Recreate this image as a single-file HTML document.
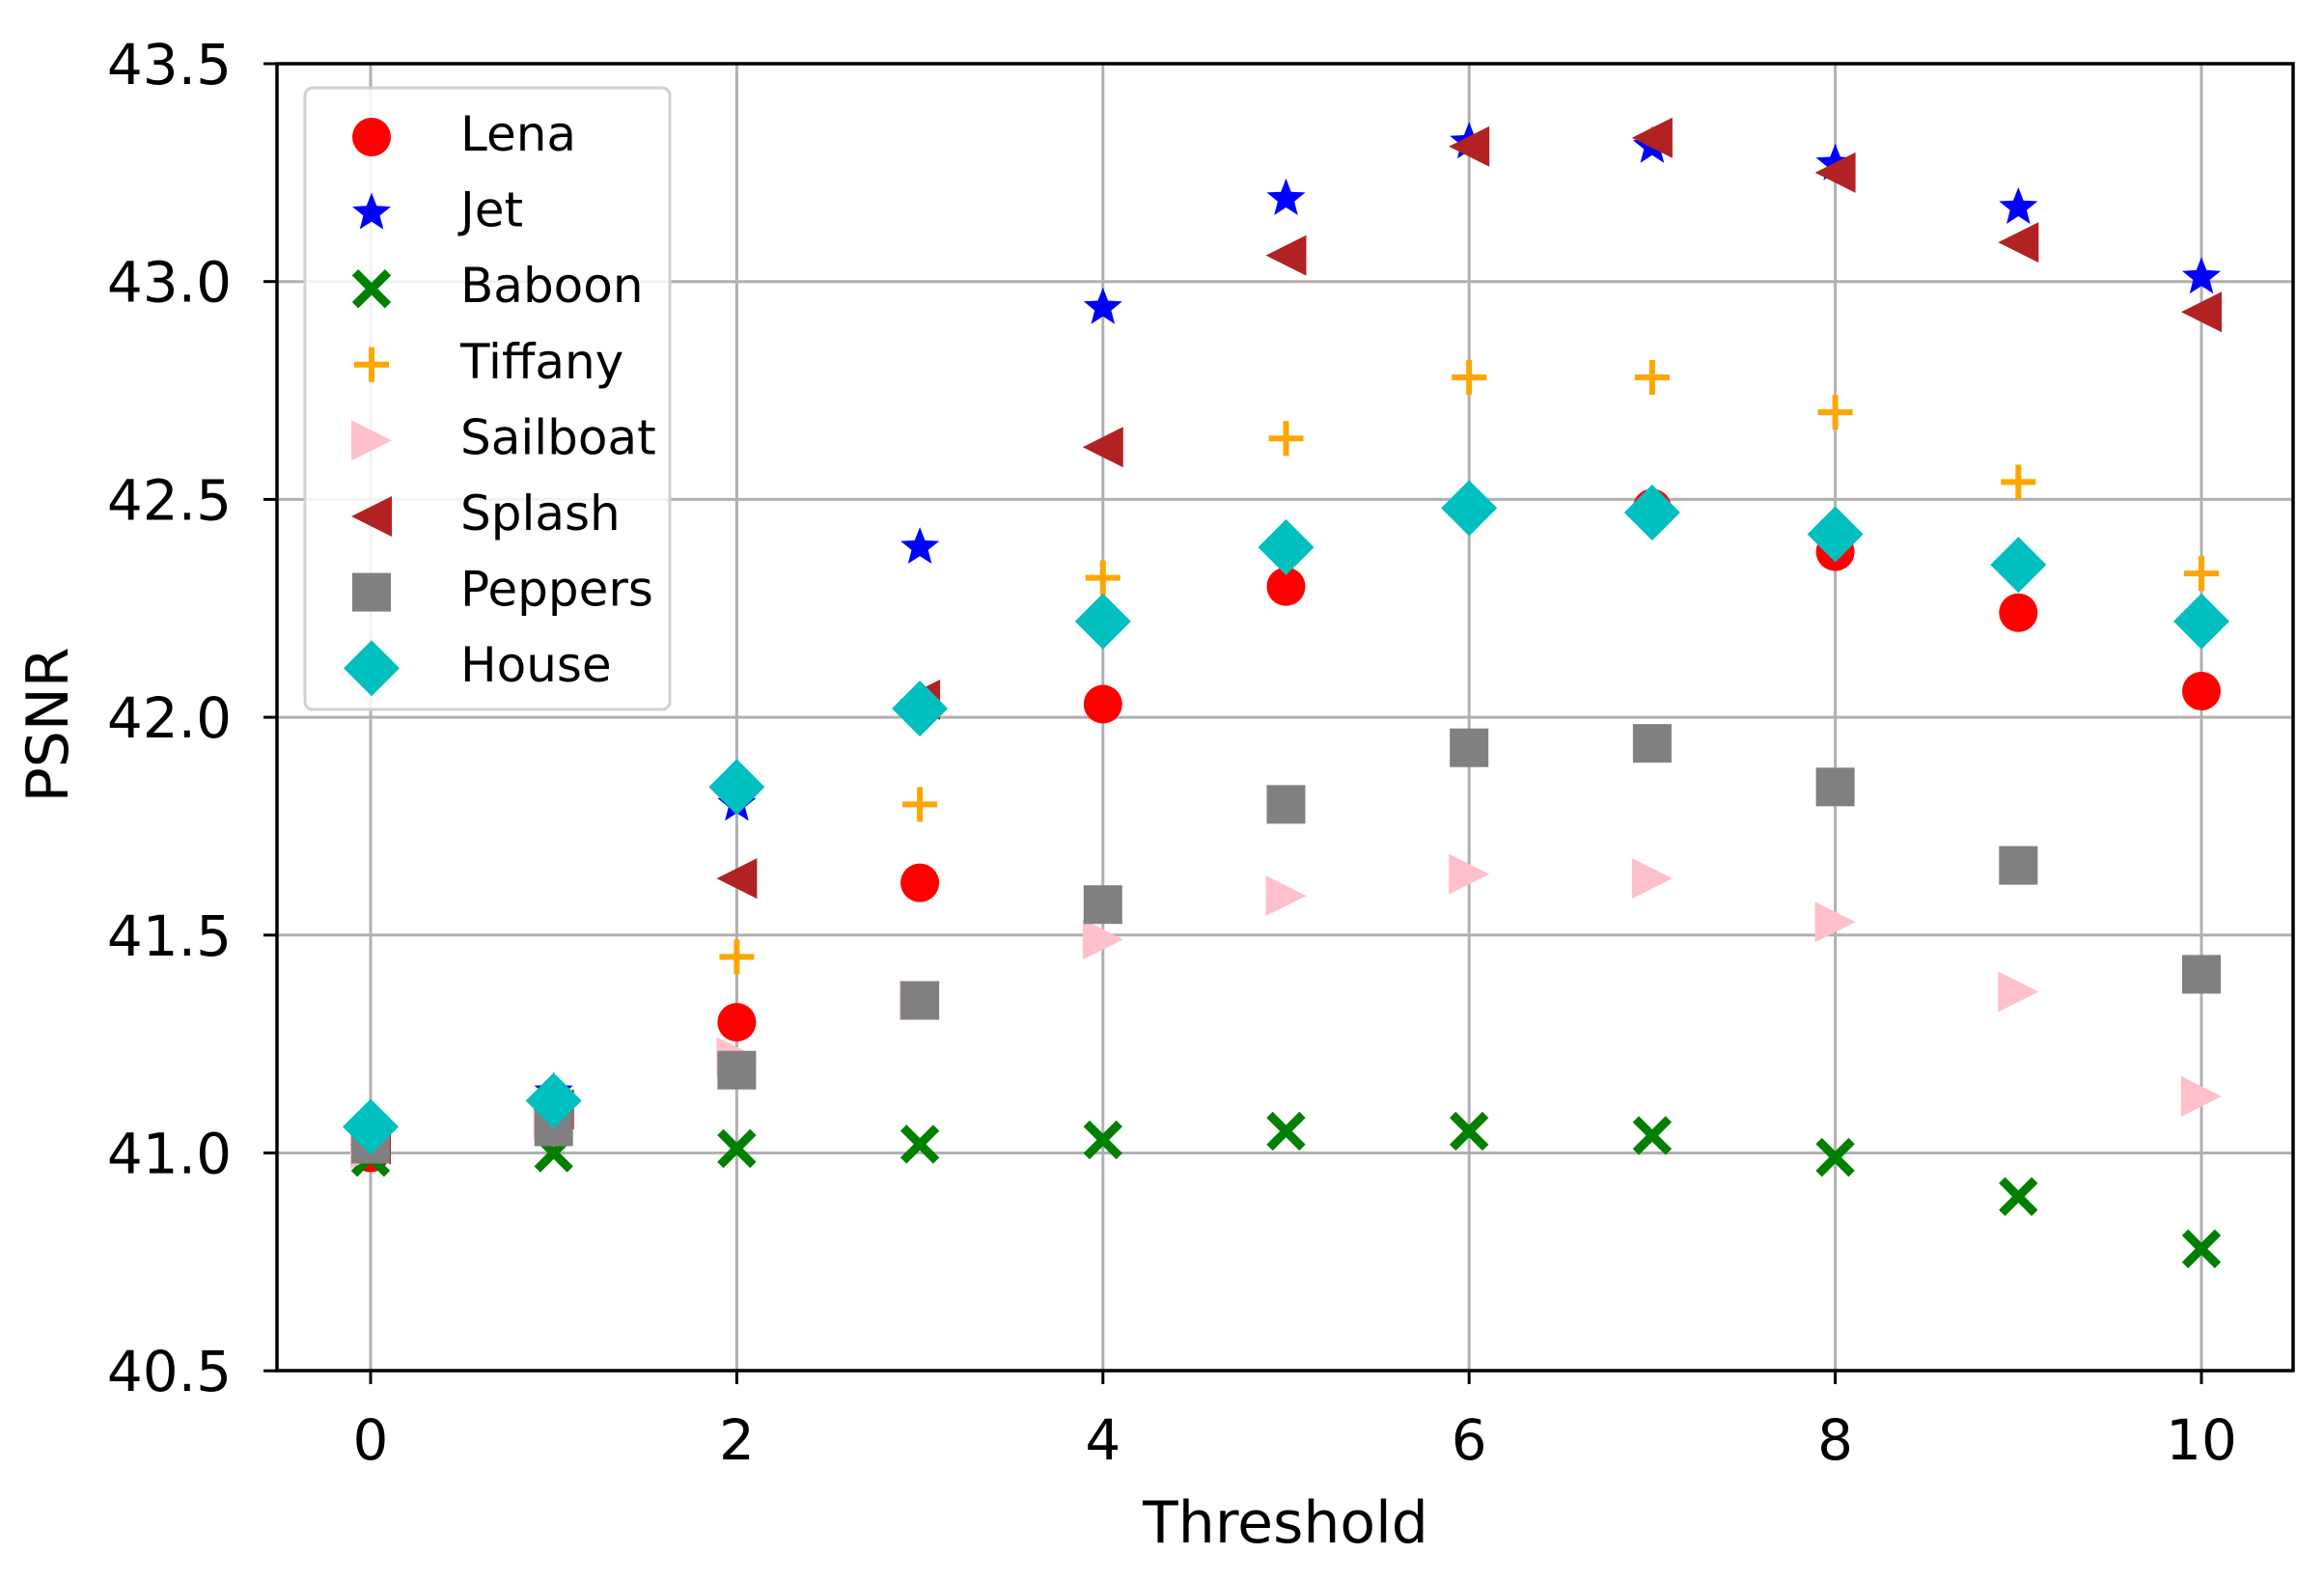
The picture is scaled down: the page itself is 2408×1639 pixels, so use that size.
<!DOCTYPE html>
<html><head><meta charset="utf-8"><style>
html,body{margin:0;padding:0;background:#fff;}
svg{display:block;font-family:"DejaVu Sans","Liberation Sans",sans-serif;}
</style></head><body>
<svg id="c" width="2408" height="1639" viewBox="0 0 2408 1639" xmlns="http://www.w3.org/2000/svg">
<rect width="2408" height="1639" fill="#fff"/>
<g id="grid" stroke="#b0b0b0" stroke-width="3"></g>
<g id="data"></g>
<rect x="287" y="66" width="2089" height="1354" fill="none" stroke="#000" stroke-width="3.5"/>
<g id="ticks" stroke="#000" stroke-width="3"></g>
<g id="labels" font-size="58" fill="#000"></g>
<text x="1332" y="1598" font-size="60" text-anchor="middle">Threshold</text>
<text transform="translate(70,751) rotate(-90)" font-size="60" text-anchor="middle">PSNR</text>
<rect x="316" y="91" width="378" height="644" rx="8" fill="#fff" fill-opacity="0.85" stroke="#d0d0d0" stroke-width="3"/>
<g id="leg" font-size="50"></g>
</svg>
<script>
const NS="http://www.w3.org/2000/svg";
function el(p,t,a,txt){const e=document.createElementNS(NS,t);for(const k in a)e.setAttribute(k,a[k]);if(txt!==undefined)e.textContent=txt;document.getElementById(p).appendChild(e);return e;}
const X=v=>384+v*189.7, Y=v=>66+(43.5-v)*451.4;
for(let i=0;i<=10;i+=2){el('grid','line',{x1:X(i),x2:X(i),y1:66,y2:1420});el('ticks','line',{x1:X(i),x2:X(i),y1:1420,y2:1434});el('labels','text',{x:X(i),y:1512,'text-anchor':'middle'},String(i));}
for(let k=0;k<=6;k++){const v=40.5+k*0.5;el('grid','line',{x1:287,x2:2376,y1:Y(v),y2:Y(v)});el('ticks','line',{x1:273,x2:287,y1:Y(v),y2:Y(v)});el('labels','text',{x:240,y:Y(v)+21,'text-anchor':'end'},v.toFixed(1));}
function mk(g,type,x,y){
 switch(type){
 case 'o':el(g,'circle',{cx:x,cy:y,r:20,fill:'#ff0000'});break;
 case '*':{let p=[];for(let i=0;i<10;i++){const r=i%2?9:21,a=-Math.PI/2+i*Math.PI/5;p.push((x+r*Math.cos(a)).toFixed(1)+','+(y+r*Math.sin(a)).toFixed(1));}el(g,'polygon',{points:p.join(' '),fill:'#0000ff'});break;}
 case 'x':el(g,'path',{d:`M${x-17} ${y-17}L${x+17} ${y+17}M${x-17} ${y+17}L${x+17} ${y-17}`,stroke:'#008000','stroke-width':9});break;
 case '+':el(g,'path',{d:`M${x-18} ${y}L${x+18} ${y}M${x} ${y-18}L${x} ${y+18}`,stroke:'#ffa500','stroke-width':6});break;
 case '>':el(g,'polygon',{points:`${x-21},${y-21} ${x+21},${y} ${x-21},${y+21}`,fill:'#ffc0cb'});break;
 case '<':el(g,'polygon',{points:`${x+21},${y-21} ${x-21},${y} ${x+21},${y+21}`,fill:'#b22222'});break;
 case 's':el(g,'rect',{x:x-20,y:y-20,width:40,height:40,fill:'#808080'});break;
 case 'D':el(g,'polygon',{points:`${x},${y-29} ${x+29},${y} ${x},${y+29} ${x-29},${y}`,fill:'#00bfbf'});break;
 }}
const S=[
['Lena','o',[41.0,41.1,41.3,41.62,42.03,42.3,42.48,42.48,42.38,42.24,42.06]],
['Jet','*',[41.05,41.14,41.8,42.39,42.94,43.19,43.32,43.31,43.27,43.17,43.01]],
['Baboon','x',[40.99,41.0,41.01,41.02,41.03,41.05,41.05,41.04,40.99,40.9,40.78]],
['Tiffany','+',[41.03,41.1,41.45,41.8,42.32,42.64,42.78,42.78,42.7,42.54,42.33]],
['Sailboat','>',[41.01,41.08,41.22,41.35,41.49,41.59,41.64,41.63,41.53,41.37,41.13]],
['Splash','<',[41.02,41.1,41.63,42.04,42.62,43.06,43.31,43.33,43.25,43.09,42.93]],
['Peppers','s',[41.02,41.06,41.19,41.35,41.57,41.8,41.93,41.94,41.84,41.66,41.41]],
['House','D',[41.06,41.12,41.84,42.02,42.22,42.39,42.48,42.47,42.42,42.35,42.22]]];
S.forEach((s,j)=>{s[2].forEach((v,i)=>mk('data',s[1],X(i),Y(v)));const ly=142+j*78.6;mk('leg',s[1],385,ly);el('leg','text',{x:477,y:ly+14},s[0]);});
</script>
</body></html>
